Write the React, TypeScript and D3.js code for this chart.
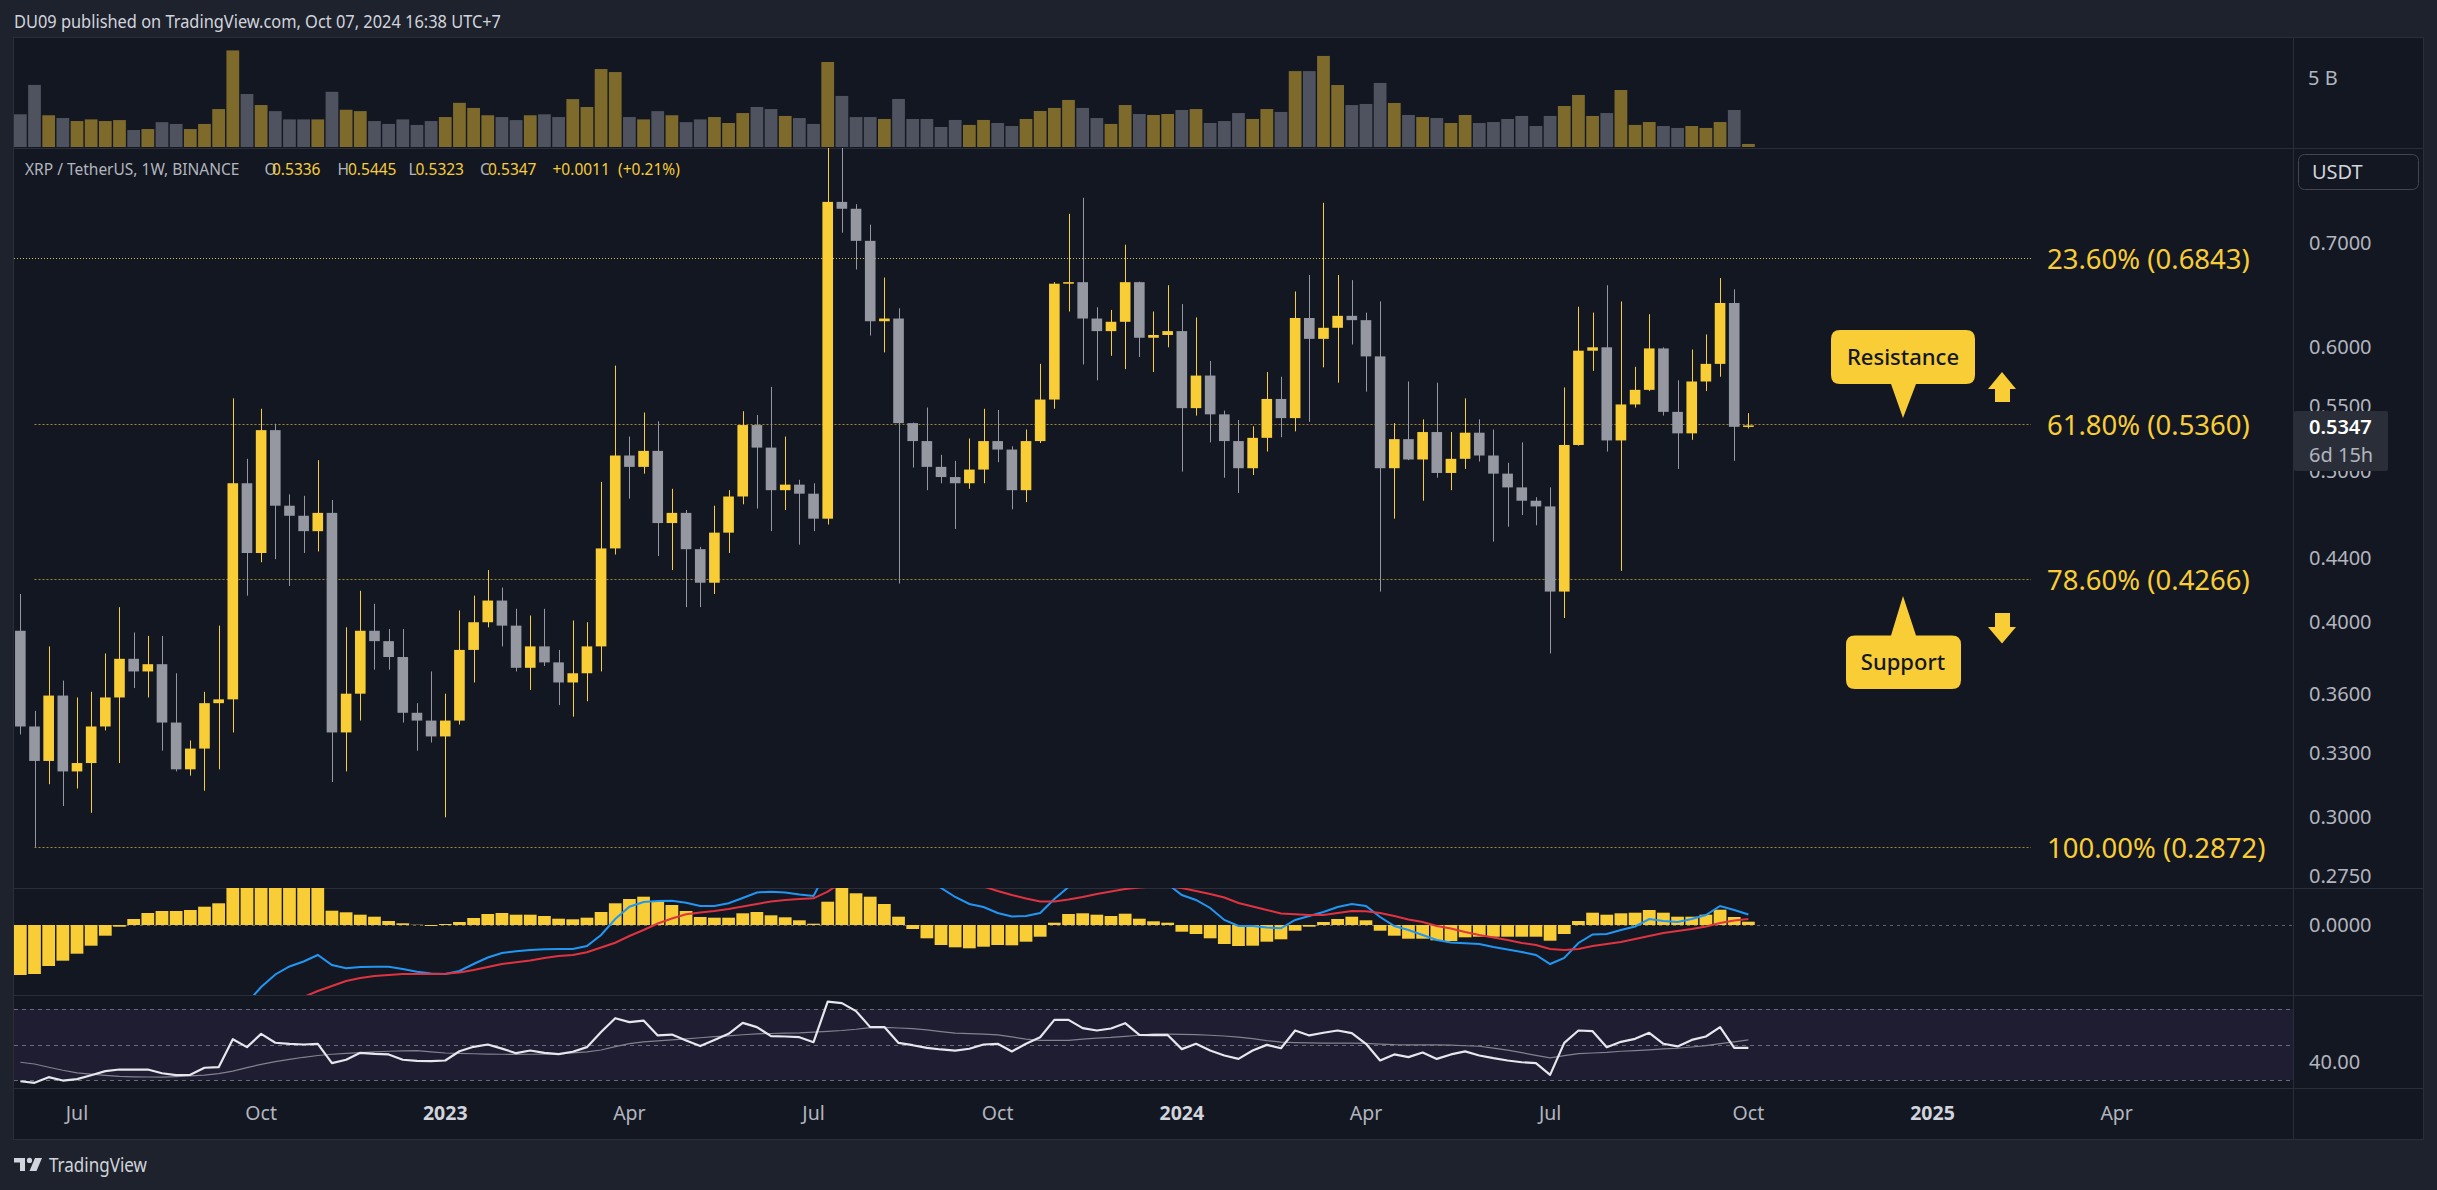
import React from 'react';
import * as d3 from 'd3';

const W = 2437;
const H = 1190;

// weekly XRP/USDT candles, first bar = week of 2022-06-06
const firstWeek = new Date(Date.UTC(2022, 5, 6));

const opens = [
  0.395, 0.343, 0.326, 0.359, 0.321, 0.325, 0.343, 0.358, 0.379, 0.372,
  0.376, 0.345, 0.322, 0.332, 0.355, 0.357, 0.491, 0.443, 0.531, 0.475,
  0.468, 0.4575, 0.470, 0.340, 0.360, 0.395, 0.389, 0.380, 0.350, 0.346,
  0.338, 0.346, 0.384, 0.400, 0.413, 0.398, 0.374, 0.386, 0.377, 0.366,
  0.371, 0.386, 0.446, 0.5115, 0.503, 0.515, 0.463, 0.470, 0.4455, 0.424,
  0.4565, 0.4815, 0.535, 0.5175, 0.486, 0.490, 0.4835, 0.466, 0.7435, 0.736,
  0.702, 0.6235, 0.626, 0.5365, 0.5225, 0.503, 0.4955, 0.491, 0.501, 0.5225,
  0.516, 0.486, 0.5225, 0.5555, 0.659, 0.6605, 0.626, 0.6145, 0.623, 0.6605,
  0.6085, 0.611, 0.6145, 0.5485, 0.5755, 0.5435, 0.5225, 0.502, 0.525, 0.556,
  0.5405, 0.6265, 0.6075, 0.6175, 0.6285, 0.6245, 0.592, 0.502, 0.524, 0.5085,
  0.5295, 0.4985, 0.509, 0.529, 0.5115, 0.498, 0.488, 0.4785, 0.4745, 0.4185,
  0.5195, 0.597, 0.600, 0.523, 0.5515, 0.5635, 0.599, 0.5455, 0.5285, 0.5705,
  0.5855, 0.6405, 0.5336,
];
const highs = [
  0.417, 0.351, 0.386, 0.367, 0.358, 0.361, 0.382, 0.409, 0.394, 0.392,
  0.392, 0.371, 0.336, 0.361, 0.398, 0.5565, 0.509, 0.548, 0.536, 0.483,
  0.482, 0.508, 0.479, 0.397, 0.419, 0.411, 0.396, 0.396, 0.355, 0.372,
  0.360, 0.407, 0.416, 0.432, 0.421, 0.408, 0.404, 0.408, 0.384, 0.401,
  0.400, 0.492, 0.584, 0.526, 0.545, 0.538, 0.487, 0.472, 0.447, 0.475,
  0.486, 0.546, 0.543, 0.566, 0.526, 0.4935, 0.491, 0.938, 0.82, 0.741,
  0.719, 0.665, 0.6355, 0.537, 0.549, 0.512, 0.5075, 0.5245, 0.548, 0.547,
  0.5185, 0.5315, 0.5855, 0.6605, 0.7305, 0.748, 0.6365, 0.634, 0.698, 0.661,
  0.6325, 0.6575, 0.6395, 0.627, 0.588, 0.5465, 0.539, 0.534, 0.5785, 0.5745,
  0.6515, 0.6675, 0.7425, 0.6675, 0.6625, 0.6315, 0.642, 0.5365, 0.5705, 0.5395,
  0.5695, 0.5295, 0.5565, 0.5395, 0.5315, 0.506, 0.5215, 0.481, 0.488, 0.5655,
  0.637, 0.6315, 0.6575, 0.642, 0.583, 0.630, 0.600, 0.5715, 0.598, 0.6115,
  0.6645, 0.6535, 0.5445,
];
const lows = [
  0.339, 0.2872, 0.315, 0.305, 0.313, 0.302, 0.341, 0.325, 0.363, 0.358,
  0.331, 0.321, 0.319, 0.312, 0.322, 0.340, 0.416, 0.437, 0.439, 0.422,
  0.443, 0.444, 0.316, 0.321, 0.346, 0.373, 0.373, 0.345, 0.331, 0.335,
  0.300, 0.344, 0.366, 0.397, 0.386, 0.372, 0.362, 0.375, 0.354, 0.348,
  0.356, 0.372, 0.442, 0.480, 0.498, 0.441, 0.432, 0.409, 0.409, 0.417,
  0.443, 0.476, 0.473, 0.4575, 0.472, 0.4485, 0.4575, 0.462, 0.7105, 0.673,
  0.6105, 0.5955, 0.4235, 0.5025, 0.486, 0.491, 0.459, 0.487, 0.491, 0.5065,
  0.4725, 0.4775, 0.521, 0.548, 0.6325, 0.585, 0.5715, 0.5925, 0.581, 0.5915,
  0.5785, 0.600, 0.4995, 0.5425, 0.5215, 0.495, 0.484, 0.497, 0.5145, 0.5255,
  0.530, 0.5375, 0.5825, 0.5695, 0.6025, 0.562, 0.4185, 0.466, 0.508, 0.4785,
  0.495, 0.486, 0.5015, 0.507, 0.4505, 0.4605, 0.4685, 0.4615, 0.382, 0.4025,
  0.519, 0.5795, 0.5145, 0.4315, 0.549, 0.5625, 0.5425, 0.5015, 0.5235, 0.5625,
  0.5745, 0.5075, 0.5323,
];
const closes = [
  0.343, 0.326, 0.359, 0.321, 0.325, 0.343, 0.358, 0.379, 0.372, 0.376,
  0.345, 0.322, 0.332, 0.355, 0.357, 0.491, 0.443, 0.531, 0.475, 0.468,
  0.4575, 0.470, 0.340, 0.360, 0.395, 0.389, 0.380, 0.350, 0.346, 0.338,
  0.346, 0.384, 0.400, 0.413, 0.398, 0.374, 0.386, 0.377, 0.366, 0.371,
  0.386, 0.446, 0.5115, 0.503, 0.515, 0.463, 0.470, 0.4455, 0.424, 0.4565,
  0.4815, 0.535, 0.5175, 0.486, 0.490, 0.4835, 0.466, 0.7435, 0.736, 0.702,
  0.6235, 0.626, 0.5365, 0.5225, 0.503, 0.4955, 0.491, 0.501, 0.5225, 0.516,
  0.486, 0.5225, 0.5555, 0.659, 0.6605, 0.626, 0.6145, 0.623, 0.6605, 0.6085,
  0.611, 0.6145, 0.5485, 0.5755, 0.5435, 0.5225, 0.502, 0.525, 0.556, 0.5405,
  0.6265, 0.6075, 0.6175, 0.6285, 0.6245, 0.592, 0.502, 0.524, 0.5085, 0.5295,
  0.4985, 0.509, 0.529, 0.5115, 0.498, 0.488, 0.4785, 0.4745, 0.4185, 0.5195,
  0.597, 0.600, 0.523, 0.5515, 0.5635, 0.599, 0.5455, 0.5285, 0.5705, 0.5855,
  0.6405, 0.5336, 0.5347,
];
// volume in billions of XRP
const volumes = [
  2.37, 4.5, 2.3, 2.1, 1.88, 2.0, 1.88, 1.95, 1.23, 1.3,
  1.8, 1.67, 1.3, 1.67, 2.75, 7.0, 3.84, 3.04, 2.6, 2.0,
  2.0, 2.0, 4.0, 2.7, 2.6, 1.88, 1.67, 2.0, 1.6, 1.88,
  2.17, 3.2, 2.83, 2.3, 2.17, 1.95, 2.3, 2.37, 2.17, 3.47,
  2.9, 5.65, 5.43, 2.17, 2.0, 2.6, 2.3, 1.8, 2.0, 2.17,
  1.74, 2.46, 2.9, 2.75, 2.25, 2.1, 1.67, 6.16, 3.7, 2.17,
  2.17, 2.03, 3.48, 2.03, 2.03, 1.45, 1.96, 1.6, 1.96, 1.74,
  1.52, 2.03, 2.61, 2.83, 3.41, 2.83, 2.1, 1.67, 3.04, 2.39,
  2.32, 2.39, 2.68, 2.75, 1.74, 1.88, 2.46, 2.03, 2.75, 2.54,
  5.5, 5.5, 6.6, 4.49, 3.04, 3.12, 4.64, 3.19, 2.32, 2.17,
  2.1, 1.74, 2.32, 1.74, 1.81, 2.03, 2.25, 1.52, 2.25, 2.97,
  3.77, 2.25, 2.46, 4.13, 1.6, 1.81, 1.52, 1.38, 1.52, 1.38,
  1.81, 2.68, 0.22,
];
// MACD (12, 26, 9) in units of 0.0001 USDT
const macdHist = [
  -50, -49, -41, -35.7, -28.7, -20.7, -10.7, -1.7, 6, 12,
  14, 14, 15, 18.3, 21.7, 38, 44, 48, 46, 44,
  41, 38, 14.3, 12.7, 10.3, 8.3, 4, 1.7, 0.3, -1,
  1, 3, 7, 11, 12, 10.3, 10.3, 9, 6.3, 5.7,
  7.3, 13, 21.7, 26, 28.3, 24, 20, 14, 8, 7.3,
  7.3, 11.7, 13, 9.7, 7.7, 4.7, 1.3, 23.3, 38, 31.7,
  28.3, 21, 8.3, -4, -13.3, -20, -22.3, -23.3, -21.7, -20,
  -20.3, -16.7, -11.7, 2.3, 11, 11.7, 10.3, 9, 11.3, 6.3,
  3.7, 2.3, -6.7, -9, -13.3, -19, -21, -20.7, -16.7, -14.3,
  -5.7, -1.7, 3, 6, 8.3, 4.7, -5.7, -10.7, -13.7, -13.7,
  -15.3, -16, -12.3, -11.7, -11.7, -11.7, -11.7, -11.7, -15.7, -9,
  4, 12.3, 10.3, 11.7, 12.3, 15, 12.3, 8.3, 8.3, 10.3,
  15.3, 8, 3.3,
];
const macdLine = [
  -160, -171, -174, -177, -177, -175, -167, -159, -150, -140,
  -135, -131, -127, -119, -110, -94, -78, -62, -49.5, -41.5,
  -36.5, -30, -40, -43.3, -42, -41.7, -41.7, -44, -46.7, -48.5,
  -49, -46, -39, -32.5, -28, -26.3, -25, -24.3, -24, -24,
  -21, -10, 6, 18.3, 23, 24, 24.3, 22.3, 19, 19,
  21.7, 27, 32.5, 33.3, 32.5, 30.5, 29, 56.6, 80.8, 82.4,
  86.1, 84, 73.4, 60.1, 47.5, 37, 28, 21, 18, 12,
  8.5, 9, 12, 26, 38, 41, 42, 43, 46, 44,
  42, 41, 30, 25, 17, 5, -1, -1, -2.5, -3.3,
  5, 9, 13, 18, 21, 19, 8, -1, -5, -10,
  -15, -17.5, -18.2, -19, -22, -24.5, -27, -30, -39, -33,
  -18, -9.5, -9, -5, -1.5, 6, 4, 3, 6, 10,
  19, 15, 10.5,
];
const signalLine = [
  -110, -122, -133, -142, -149, -154, -157, -157, -156, -153,
  -149, -146, -142, -137, -132, -124, -114, -103, -92, -82,
  -72, -66, -61, -56, -53, -51, -50, -49, -49, -49,
  -48.7, -47.5, -45, -42, -39, -37.3, -35.5, -33, -31, -30,
  -27.3, -22.5, -17.7, -11, -5, 1.5, 6.5, 10.7, 12.5, 14,
  16, 18.5, 21, 23.5, 25, 26, 26.7, 33.3, 42.8, 50.7,
  57.8, 63, 65.1, 64.1, 60.8, 55.8, 50.2, 44.4, 38.5, 34,
  30, 26.5, 23.5, 23.5, 25.5, 28, 31, 33.5, 36, 37.5,
  38.5, 38.5, 37, 34, 31, 27.5, 22, 18.5, 15, 11.5,
  10.7, 10, 10, 12, 14, 13.8, 12, 9, 5.5, 3,
  -1, -3.5, -7, -10, -12.5, -15, -18, -20, -24, -25,
  -24, -21, -19, -17, -14, -11, -8, -6, -4, -1.5,
  2, 4.5, 6,
];
const rsi = [
  29.3, 28.4, 31.6, 29.7, 30.5, 32.7, 35, 35.9, 35.9, 35.9,
  33.8, 32.7, 32.9, 36.9, 37.2, 53, 48.5, 56, 51, 50.4,
  50, 50.4, 39.5, 41.4, 45.3, 44.7, 44.4, 41.4, 40.8, 40.6,
  41, 46.2, 48.7, 50, 47.7, 45.1, 46.6, 45.3, 44.6, 45.9,
  48.5, 57, 64.8, 62.6, 63.5, 55.1, 55.6, 52.3, 49.1, 52.6,
  56, 62.2, 59.8, 54.7, 54.5, 54.1, 51.3, 74.2, 73.3, 68.8,
  59.8, 59.8, 50.9, 49.6, 48.1, 47.2, 46.6, 47.6, 50, 50.4,
  46.1, 50.4, 54.1, 63.9, 63.9, 59.2, 57.9, 59, 62, 55.4,
  55.3, 55.4, 47.4, 50.4, 46.6, 43.8, 41.9, 46.6, 49.8, 47.9,
  57.9, 55.1, 56.6, 57.9, 56.4, 50.4, 41, 44.4, 42.9, 45.5,
  41.9, 44.4, 46.1, 43.8, 42.3, 41, 40, 39.5, 32.9, 50.9,
  57.9, 57.5, 48.5, 51.5, 53.2, 56.6, 50.4, 48.9, 52.6, 54.5,
  59.8, 48.1, 48.1,
];
const rsiMa = [
  40, 39, 37.2, 35.5, 34, 33.3, 32.6, 32, 31.8, 31.7,
  31.6, 31.9, 32.3, 32.7, 33.6, 35, 37, 38.8, 40.4, 41.6,
  42.8, 43.8, 44.5, 45, 45.4, 45.8, 46.2, 46.4, 46.5, 45.8,
  45.2, 45, 44.8, 44.6, 44.5, 44.4, 44.5, 44.6, 44.7, 45.3,
  45.8, 46.9, 48.8, 50.5, 51.5, 52, 52.6, 53.2, 53.8, 54.4,
  54.9, 55.5, 56, 56.2, 56.4, 56.6, 57, 57.4, 57.9, 58.6,
  59.5, 59.6, 59.3, 58.9, 58.2, 57.3, 56.4, 56.1, 55.8, 55.4,
  54.3, 53, 52.3, 52.3, 52.3, 53, 53.6, 54, 54.6, 55.2,
  56, 55.8, 55.7, 55.6, 55.2, 54.8, 54.2, 53.3, 52.2, 51.3,
  51.1, 50.9, 50.8, 50.8, 50.8, 50.6, 50.2, 49.9, 49.8, 49.8,
  49.8, 49.6, 49.3, 49, 48, 46.8, 45.4, 43.9, 42.5, 43.7,
  44.9, 45.2, 45.6, 46.2, 46.6, 47, 47.5, 47.9, 48.6, 49.4,
  50.5, 51.5, 52.6,
];

const priceTicks = [0.7, 0.6, 0.55, 0.5, 0.44, 0.4, 0.36, 0.33, 0.3, 0.275];
const fibPcts = ['23.60%', '61.80%', '78.60%', '100.00%'];
const fibValues = [0.6843, 0.536, 0.4266, 0.2872];
const timeTickDates = [
  '2022-07-04', '2022-10-03', '2023-01-02', '2023-04-03', '2023-07-03', '2023-10-02',
  '2024-01-01', '2024-04-01', '2024-07-01', '2024-10-07', '2025-01-06', '2025-04-07',
];
const timeTickLabels = ['Jul', 'Oct', '2023', 'Apr', 'Jul', 'Oct', '2024', 'Apr', 'Jul', 'Oct', '2025', 'Apr'];

const UP = '#f8cd36';
const DOWN = '#9598a1';
const VOL_UP = '#7e6b2c';
const VOL_DOWN = '#4f535f';
const GRID = '#2a2e39';
const AXIS_TEXT = '#b2b5be';
const FONT = "'Noto Sans', 'Open Sans', sans-serif";

// chart geometry
const LEFT = 14;
const AXIS_X = 2293.5;
const RIGHT = 2423;
const VOL_TOP = 38;
const PRICE_TOP = 148;
const MACD_TOP = 888;
const RSI_TOP = 995;
const TIME_TOP = 1088;
const BOTTOM = 1139;

export default function App() {
  const n = closes.length;
  const dates = d3.range(n).map((k) => d3.utcDay.offset(firstWeek, 7 * k));
  const parse = d3.utcParse('%Y-%m-%d');

  const x = d3
    .scaleUtc()
    .domain([new Date(Date.UTC(2022, 6, 4)), new Date(Date.UTC(2024, 9, 7))])
    .range([77, 1748.4]);
  const step = x(dates[1]) - x(dates[0]);
  const bodyW = step * 0.75;
  const barW = step * 0.9;

  const yPrice = d3.scaleLog().domain([0.2703, 0.805]).range([MACD_TOP, PRICE_TOP]);
  const yVol = d3.scaleLinear().domain([0, 5]).range([147, 78]);
  const yMacd = d3.scaleLinear().domain([-70, 37]).range([RSI_TOP, MACD_TOP]);
  const yRsi = d3.scaleLinear().domain([30, 70]).range([1080, 1009]);

  const macdPath = d3.line<number>().x((_, k) => x(dates[k])).y((v) => yMacd(v));
  const rsiPath = d3.line<number>().x((_, k) => x(dates[k])).y((v) => yRsi(v));

  const last = n - 1;
  const chg = closes[last] - closes[last - 1];
  const chgPct = (chg / closes[last - 1]) * 100;
  const f4 = d3.format('.4f');

  const headerParts = [
    { t: 'XRP / TetherUS, 1W, BINANCE', x: 25, c: AXIS_TEXT },
    { t: 'O', x: 264.5, c: AXIS_TEXT },
    { t: f4(opens[last]), x: 272, c: UP },
    { t: 'H', x: 337.5, c: AXIS_TEXT },
    { t: f4(highs[last]), x: 348, c: UP },
    { t: 'L', x: 408.5, c: AXIS_TEXT },
    { t: f4(lows[last]), x: 415.5, c: UP },
    { t: 'C', x: 480, c: AXIS_TEXT },
    { t: f4(closes[last]), x: 488, c: UP },
    { t: `${chg >= 0 ? '+' : ''}${f4(chg)}`, x: 552.5, c: UP },
    { t: `(${chg >= 0 ? '+' : ''}${chgPct.toFixed(2)}%)`, x: 618, c: UP },
  ];

  return (
    <svg
      width={W}
      height={H}
      style={{ position: 'absolute', left: 0, top: 0, display: 'block' }}
      fontFamily={FONT}
    >
      <defs>
        <clipPath id="clipVol">
          <rect x={LEFT} y={VOL_TOP} width={AXIS_X - LEFT} height={PRICE_TOP - VOL_TOP} />
        </clipPath>
        <clipPath id="clipPrice">
          <rect x={LEFT} y={PRICE_TOP} width={AXIS_X - LEFT} height={MACD_TOP - PRICE_TOP} />
        </clipPath>
        <clipPath id="clipMacd">
          <rect x={LEFT} y={MACD_TOP} width={AXIS_X - LEFT} height={RSI_TOP - MACD_TOP} />
        </clipPath>
        <clipPath id="clipRsi">
          <rect x={LEFT} y={RSI_TOP} width={AXIS_X - LEFT} height={TIME_TOP - RSI_TOP} />
        </clipPath>
      </defs>

      <rect width={W} height={H} fill="#1e222d" />
      <text x={14} y={27.5} fontSize={18} fill="#d1d4dc" textLength={487} lengthAdjust="spacingAndGlyphs">
        DU09 published on TradingView.com, Oct 07, 2024 16:38 UTC+7
      </text>

      <rect
        x={LEFT - 0.5}
        y={VOL_TOP - 0.5}
        width={RIGHT - LEFT + 1}
        height={BOTTOM - VOL_TOP + 1}
        fill="#131722"
        stroke={GRID}
      />

      {/* volume */}
      <g clipPath="url(#clipVol)">
        {volumes.map((v, k) => (
          <rect
            key={k}
            x={x(dates[k]) - barW / 2}
            y={yVol(v)}
            width={barW}
            height={yVol(0) - yVol(v)}
            fill={closes[k] >= opens[k] ? VOL_UP : VOL_DOWN}
          />
        ))}
      </g>

      {/* RSI background band */}
      <rect x={LEFT} y={yRsi(70)} width={AXIS_X - LEFT} height={yRsi(30) - yRsi(70)} fill="#1e1d32" />
      {[70, 50, 30].map((lv) => (
        <line
          key={lv}
          x1={LEFT}
          x2={AXIS_X}
          y1={Math.round(yRsi(lv)) + 0.5}
          y2={Math.round(yRsi(lv)) + 0.5}
          stroke="#6a6d78"
          strokeDasharray="4 4"
        />
      ))}
      <line
        x1={LEFT}
        x2={AXIS_X}
        y1={Math.round(yMacd(0)) + 0.5}
        y2={Math.round(yMacd(0)) + 0.5}
        stroke="#5d606b"
        strokeDasharray="3 4"
      />

      {/* pane separators */}
      {[PRICE_TOP, MACD_TOP, RSI_TOP, TIME_TOP].map((yy) => (
        <line key={yy} x1={LEFT} x2={RIGHT} y1={yy + 0.5} y2={yy + 0.5} stroke={GRID} />
      ))}
      <line x1={AXIS_X} x2={AXIS_X} y1={VOL_TOP} y2={BOTTOM} stroke={GRID} />

      {/* fibonacci levels */}
      {fibValues.map((v, k) => {
        const yy = Math.round(yPrice(v)) + 0.5;
        return (
          <g key={k}>
            <line
              x1={k === 0 ? LEFT : x(dates[1])}
              x2={2031}
              y1={yy}
              y2={yy}
              stroke={k === 0 ? '#d9bd5c' : '#a38a32'}
              strokeDasharray={k === 0 ? '1 2' : '2 2'}
            />
            <text x={2047} y={yy + 10} fontSize={27.5} fill={UP}>
              {`${fibPcts[k]} (${f4(v)})`}
            </text>
          </g>
        );
      })}

      {/* candles */}
      <g clipPath="url(#clipPrice)">
        {closes.map((c, k) => {
          const o = opens[k];
          const up = c >= o;
          const col = up ? UP : DOWN;
          const cx = x(dates[k]);
          const wx = Math.round(cx) + 0.5;
          const top = yPrice(Math.max(o, c));
          const bot = yPrice(Math.min(o, c));
          return (
            <g key={k}>
              <line x1={wx} x2={wx} y1={yPrice(highs[k])} y2={yPrice(lows[k])} stroke={col} strokeWidth={1} />
              <rect
                x={cx - bodyW / 2}
                y={top}
                width={bodyW}
                height={Math.max(1.5, bot - top)}
                fill={col}
              />
            </g>
          );
        })}
      </g>

      {/* callouts */}
      <g>
        <path d="M1840,330 H1966 Q1975,330 1975,339 V375 Q1975,384 1966,384 H1916 L1903,418 L1891,384 H1840 Q1831,384 1831,375 V339 Q1831,330 1840,330 Z" fill={UP} />
        <text x={1903} y={365} textAnchor="middle" fontSize={22} fontWeight={500} fill="#131722">
          Resistance
        </text>
        <path d="M2002,372 L2016,389 H2010 V402 H1995 V389 H1988 Z" fill={UP} />
        <path d="M1855,635.5 H1891 L1903,596 L1916,635.5 H1952 Q1961,635.5 1961,644.5 V680 Q1961,689 1952,689 H1855 Q1846,689 1846,680 V644.5 Q1846,635.5 1855,635.5 Z" fill={UP} />
        <text x={1903} y={670} textAnchor="middle" fontSize={22} fontWeight={500} fill="#131722">
          Support
        </text>
        <path d="M1995,613 H2010 V627 H2016 L2002,643.5 L1988,627 H1995 Z" fill={UP} />
      </g>

      {/* MACD */}
      <g clipPath="url(#clipMacd)">
        {macdHist.map((v, k) => (
          <rect
            key={k}
            x={x(dates[k]) - barW / 2}
            y={Math.min(yMacd(v), yMacd(0))}
            width={barW}
            height={Math.abs(yMacd(v) - yMacd(0))}
            fill={UP}
          />
        ))}
        <path d={macdPath(macdLine) || ''} fill="none" stroke="#2196f3" strokeWidth={2} />
        <path d={macdPath(signalLine) || ''} fill="none" stroke="#e03340" strokeWidth={2} />
      </g>

      {/* RSI */}
      <g clipPath="url(#clipRsi)">
        <path d={rsiPath(rsiMa) || ''} fill="none" stroke="#80838e" strokeWidth={1.2} />
        <path d={rsiPath(rsi) || ''} fill="none" stroke="#e6e7ec" strokeWidth={2.2} strokeLinejoin="round" />
      </g>

      {/* header legend */}
      {headerParts.map((p, k) => (
        <text key={k} x={p.x} y={175} fontSize={15.5} fill={p.c}>
          {p.t}
        </text>
      ))}

      {/* right axis */}
      <text x={2308} y={85} fontSize={20} fill={AXIS_TEXT}>5 B</text>
      <rect x={2298.5} y={154.5} width={120} height={35} rx={6} fill="#131722" stroke="#434651" />
      <text x={2312} y={179} fontSize={20} fill="#d1d4dc">USDT</text>
      {priceTicks.map((t) => (
        <text key={t} x={2309} y={yPrice(t) + 7} fontSize={20} fill={AXIS_TEXT}>
          {f4(t)}
        </text>
      ))}
      <rect x={2294} y={411} width={94} height={60} rx={2} fill="#2a2e39" />
      <text x={2309} y={434} fontSize={20} fontWeight={600} fill="#ffffff">
        {f4(closes[last])}
      </text>
      <text x={2309} y={462} fontSize={20} fill={AXIS_TEXT}>6d 15h</text>
      <text x={2309} y={yMacd(0) + 7} fontSize={20} fill={AXIS_TEXT}>0.0000</text>
      <text x={2309} y={yRsi(40) + 7} fontSize={20} fill={AXIS_TEXT}>40.00</text>

      {/* time axis */}
      {timeTickDates.map((d, k) => {
        const isYear = /^\d{4}$/.test(timeTickLabels[k]);
        return (
          <text
            key={d}
            x={x(parse(d) as Date)}
            y={1120}
            textAnchor="middle"
            fontSize={19.5}
            fontWeight={isYear ? 700 : 400}
            fill={isYear ? '#d1d4dc' : AXIS_TEXT}
          >
            {timeTickLabels[k]}
          </text>
        );
      })}

      {/* footer logo */}
      <g fill="#d1d4dc">
        <path d="M14,1158 H25 V1171 H20 V1162.5 H14 Z" />
        <circle cx={29.5} cy={1160.4} r={2.6} />
        <path d="M35,1158 H42 L36.5,1171 H29.5 Z" />
        <text x={49} y={1172} fontSize={19} textLength={98} lengthAdjust="spacingAndGlyphs">
          TradingView
        </text>
      </g>
    </svg>
  );
}
